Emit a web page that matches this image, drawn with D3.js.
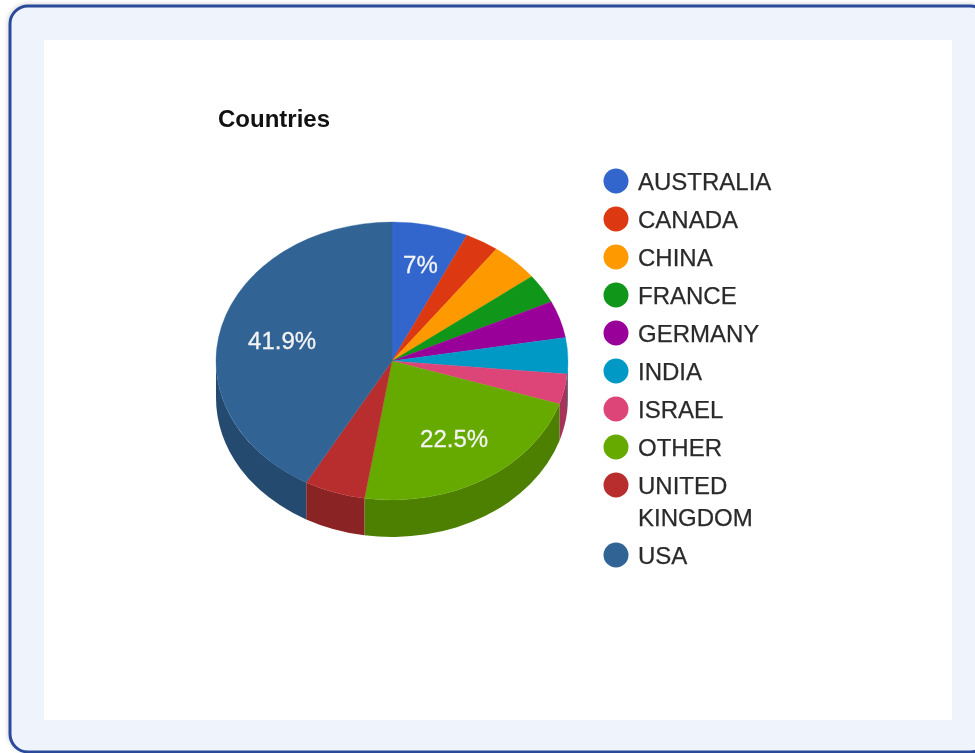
<!doctype html>
<html>
  <head>
    <script src="https://d3js.org/d3.v7.min.js"></script>
    <style>
      html, body { margin: 0; padding: 0; background: #fff; overflow: hidden; }
      svg { display: block; filter: blur(0.6px); }
    </style>
  </head>
  <body>
    <script>
    var categories = ["AUSTRALIA", "CANADA", "CHINA", "FRANCE", "GERMANY", "INDIA", "ISRAEL", "OTHER", "UNITED KINGDOM", "USA"];
    var shares = [7, 3.1, 4.5, 3.4, 4.3, 4.2, 3.5, 22.5, 5.6, 41.9];
    var colors = ["#3366cc", "#dc3912", "#ff9900", "#109618", "#990099", "#0099c6", "#dd4477", "#66aa00", "#b82e2e", "#316395"];
    var labelled = ["AUSTRALIA", "OTHER", "USA"];
    var chartTitle = "Countries";

    var width = 975;
    var height = 753;

    var cx = 392, cy = 361;
    var rx = 176, ry = 139, depth = 37;
    var fontFamily = "'Liberation Sans', Arial, sans-serif";

    var svg = d3.select("body")
              .append("svg")
              .attr("width", width)
              .attr("height", height);

    // card behind the chart
    var defs = svg.append("defs");
    defs.append("filter")
        .attr("id", "cardShadow")
        .attr("x", "-5%").attr("y", "-5%").attr("width", "110%").attr("height", "110%")
        .append("feDropShadow")
        .attr("dx", -1).attr("dy", -1)
        .attr("stdDeviation", 2)
        .attr("flood-color", "#000")
        .attr("flood-opacity", 0.15);

    svg.append("rect")
        .attr("x", 10).attr("y", 6)
        .attr("width", 978).attr("height", 746)
        .attr("rx", 18)
        .attr("fill", "#eff3fc")
        .attr("stroke", "#2a4a9a")
        .attr("stroke-width", 3)
        .attr("filter", "url(#cardShadow)");

    svg.append("rect")
        .attr("x", 44).attr("y", 40)
        .attr("width", 908).attr("height", 680)
        .attr("fill", "#fff");

    svg.append("text")
        .attr("x", 218).attr("y", 127)
        .attr("font-family", fontFamily)
        .attr("font-weight", "bold")
        .attr("font-size", "24px")
        .attr("fill", "#111")
        .text(chartTitle);

    // slices
    var pie = d3.pie().sort(null).value(function(d) { return d; });
    var slices = pie(shares);

    var g = svg.append("g")
            .attr("transform", "translate(" + cx + "," + cy + ")");

    function px(a) { return rx * Math.sin(a); }
    function py(a) { return -ry * Math.cos(a); }

    function wallPath(d) {
      var a0 = Math.max(d.startAngle, Math.PI / 2);
      var a1 = Math.min(d.endAngle, Math.PI * 3 / 2);
      if (a1 <= a0) return null;
      return "M" + px(a0) + "," + py(a0)
        + "A" + rx + "," + ry + " 0 0 1 " + px(a1) + "," + py(a1)
        + "L" + px(a1) + "," + (py(a1) + depth)
        + "A" + rx + "," + ry + " 0 0 0 " + px(a0) + "," + (py(a0) + depth)
        + "Z";
    }

    // side walls first, top faces go over them
    g.selectAll(".wall")
      .data(slices)
      .enter()
        .append("path")
        .attr("class", "wall")
        .attr("d", wallPath)
        .attr("fill", function(d, i) {
          var c = d3.rgb(colors[i]);
          return d3.rgb(c.r * 0.75, c.g * 0.75, c.b * 0.75);
        });

    var arc = d3.arc().innerRadius(0).outerRadius(rx);

    g.append("g")
      .attr("transform", "scale(1," + (ry / rx) + ")")
      .selectAll(".face")
      .data(slices)
      .enter()
        .append("path")
        .attr("class", "face")
        .attr("d", arc)
        .attr("fill", function(d, i) { return colors[i]; })
        .attr("stroke", function(d, i) { return colors[i]; })
        .attr("stroke-width", 0.4);

    // percent labels, wider text sits closer to the centre
    var labelRadius = { "AUSTRALIA": 0.74, "OTHER": 0.675, "USA": 0.645 };
    var labelShift = { "AUSTRALIA": 12, "OTHER": 6, "USA": 11 };

    g.selectAll(".pct")
      .data(slices.filter(function(d) { return labelled.indexOf(categories[d.index]) >= 0; }))
      .enter()
        .append("text")
        .attr("class", "pct")
        .attr("x", function(d) { return px((d.startAngle + d.endAngle) / 2) * labelRadius[categories[d.index]]; })
        .attr("y", function(d) { return py((d.startAngle + d.endAngle) / 2) * labelRadius[categories[d.index]] + labelShift[categories[d.index]]; })
        .attr("text-anchor", "middle")
        .attr("font-family", fontFamily)
        .attr("font-size", "24px")
        .attr("fill", "#f4f4f4")
        .attr("stroke", "#f4f4f4")
        .attr("stroke-width", 0.3)
        .text(function(d) { return d.value + "%"; });

    // legend
    var rowY = 181, rowGap = 38, lineGap = 32;
    var legend = svg.append("g");

    categories.forEach(function(name, i) {
      var lines = name.split(" ");

      legend.append("circle")
        .attr("cx", 616).attr("cy", rowY)
        .attr("r", 12.5)
        .attr("fill", colors[i]);

      lines.forEach(function(line, j) {
        legend.append("text")
          .attr("x", 638)
          .attr("y", rowY + j * lineGap + 9)
          .attr("font-family", fontFamily)
          .attr("font-size", "24px")
          .attr("fill", "#2a2a2a")
          .attr("stroke", "#2a2a2a")
          .attr("stroke-width", 0.25)
          .text(line);
      });

      rowY += rowGap + (lines.length - 1) * lineGap;
    });
    </script>
  </body>
</html>
